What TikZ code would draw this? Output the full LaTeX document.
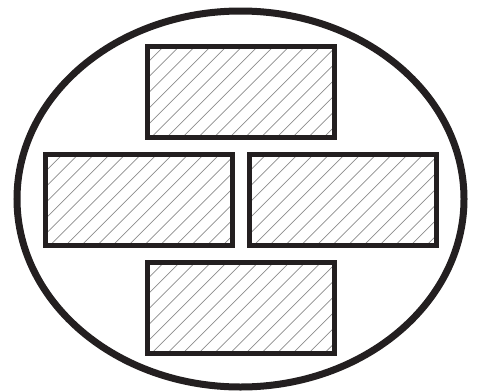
\documentclass[tikz,border=0pt]{standalone}
\usetikzlibrary{shapes.geometric}

\definecolor{ink}{RGB}{35,31,32}
\definecolor{hatchgray}{RGB}{140,140,140}

\tikzset{
hatch/.style={hatchgray, line width=0.7pt},
brick/.style={
draw=ink,
line width=4.7pt,
minimum width=187pt,
minimum height=91pt,
inner sep=0pt,
path picture={
\foreach \k in {-7,...,13}
\draw[hatch] ([xshift=\k*15.7pt+4pt]path picture bounding box.south west) -- ++(100pt,100pt);
}
}
}

\begin{document}
\begin{tikzpicture}[x=1pt, y=1pt]

\useasboundingbox (0,0) rectangle (478,-391);

\node[
draw=ink,
line width=7pt,
ellipse,
inner sep=0pt,
minimum width=447pt,
minimum height=376pt
] (wall) at (240.5,-199) {};

\node[brick] (top) at (240.8,-91.7) {};

\node[brick] (left) at (139.2,-200.2) {};

\node[brick] (right) at (343,-200.2) {};

\node[brick] (bottom) at (240.8,-308) {};

\end{tikzpicture}
\end{document}
